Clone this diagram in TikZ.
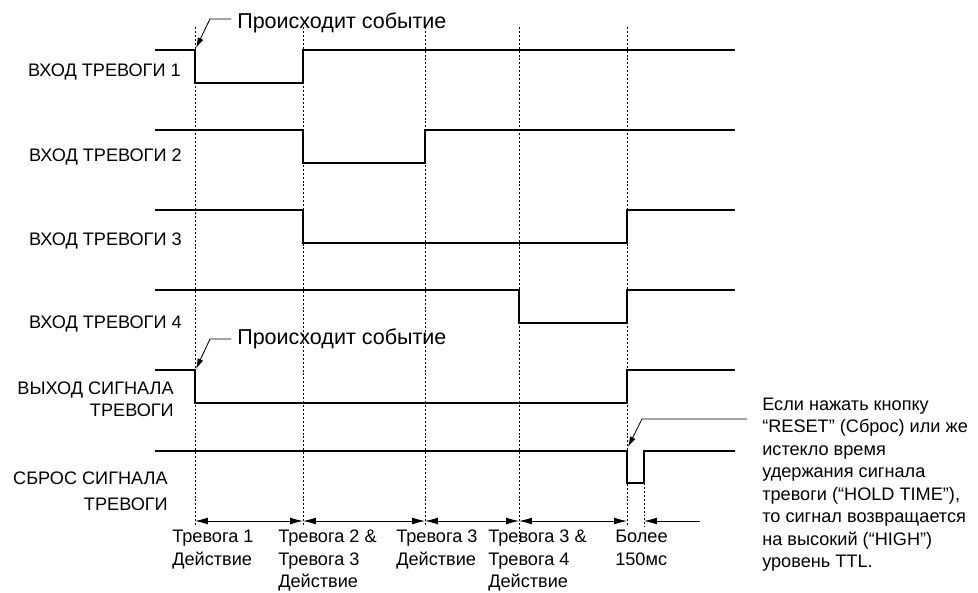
\documentclass[tikz,border=0pt]{standalone}
\usepackage{fontspec}
\setmainfont{Liberation Sans}
\usetikzlibrary{arrows.meta,positioning}

\tikzset{
	signal/.style={line width=2.1pt},
	guide/.style={line width=0.6pt, dash pattern=on 1.4pt off 1.4pt},
	span/.style={line width=0.6pt, {Latex[length=3.2mm,width=1.7mm]}-{Latex[length=3.2mm,width=1.7mm]}},
	spanend/.style={line width=0.6pt, -{Latex[length=3.2mm,width=1.7mm]}},
	leader/.style={line width=0.6pt, -{Latex[length=2.6mm,width=1.5mm]}},
	lbl/.style={font=\fontsize{12.9}{16}\selectfont, inner sep=0pt},
	evlbl/.style={font=\fontsize{15.3}{18}\selectfont, inner sep=0pt},
}

\begin{document}
\begin{tikzpicture}[x=0.025cm,y=-0.025cm]
	\useasboundingbox (0,0) rectangle (978,592);
	
	% dotted time marks
	\draw[guide] (195,27)--(195,527);
	\draw[guide] (303,27)--(303,527);
	\draw[guide] (425,27)--(425,527);
	\draw[guide] (519,27)--(519,543);
	\draw[guide] (627,27)--(627,525);
	\draw[guide] (644,483)--(644,527);
	
	% alarm inputs
	\draw[signal] (155,50)--(195,50)--(195,83)--(303,83)--(303,50)--(735,50);
	\draw[signal] (155,130)--(303,130)--(303,163)--(425,163)--(425,130)--(735,130);
	\draw[signal] (155,210)--(303,210)--(303,243)--(627,243)--(627,210)--(735,210);
	\draw[signal] (155,290)--(519,290)--(519,323)--(627,323)--(627,290)--(735,290);
	
	% alarm output and reset
	\draw[signal] (155,370)--(195,370)--(195,403)--(627,403)--(627,370)--(735,370);
	\draw[signal] (155,451)--(627,451)--(627,483)--(644,483)--(644,451)--(735,451);
	
	% signal names
	\node[lbl, anchor=east] (in1) at (181,72) {ВХОД ТРЕВОГИ 1};
	\node[lbl, anchor=east] (in2) at (182,157) {ВХОД ТРЕВОГИ 2};
	\node[lbl, anchor=east] (in3) at (182,241) {ВХОД ТРЕВОГИ 3};
	\node[lbl, anchor=east] (in4) at (182,324) {ВХОД ТРЕВОГИ 4};
	\node[lbl, anchor=north east, align=right] (out) at (174,381.5) {ВЫХОД СИГНАЛА\\ТРЕВОГИ};
	\node[lbl, anchor=north east, align=right] (rst) at (168,472) {СБРОС СИГНАЛА\\[2pt]ТРЕВОГИ};
	
	% event callouts
	\node[evlbl, anchor=base west] (ev1) at (237,28) {Происходит событие};
	\coordinate (ev1start) at (231,19);
	\coordinate (ev1bend) at (210,19);
	\coordinate (ev1tip) at (196,48);
	\draw[leader] (ev1start) -- (ev1bend) -- (ev1tip);
	
	\node[evlbl, anchor=base west] (ev2) at (237,344.5) {Происходит событие};
	\coordinate (ev2start) at (231,339);
	\coordinate (ev2bend) at (210,339);
	\coordinate (ev2tip) at (196,369);
	\draw[leader] (ev2start) -- (ev2bend) -- (ev2tip);
	
	% reset note
	\node[lbl, anchor=north west, align=left] (note) at (762,397.5) {Если нажать кнопку\\“RESET” (Сброс) или же\\истекло время\\удержания сигнала\\тревоги (“HOLD TIME”),\\то сигнал возвращается\\на высокий (“HIGH”)\\уровень TTL.};
	\coordinate (notestart) at (747,419);
	\coordinate (notebend) at (642,419);
	\coordinate (notetip) at (628,447);
	\draw[leader] (notestart) -- (notebend) -- (notetip);
	
	% intervals
	\draw[span] (195,521)--(303,521);
	\draw[span] (303,521)--(425,521);
	\draw[span] (425,521)--(519,521);
	\draw[span] (519,521)--(627,521);
	\draw[spanend] (700,521)--(644,521);
	
	\node[lbl, anchor=north west, align=left] (t1) at (172,530) {Тревога 1\\Действие};
	\node[lbl, anchor=north west, align=left] (t2) at (278,530) {Тревога 2 \&\\Тревога 3\\Действие};
	\node[lbl, anchor=north west, align=left] (t3) at (396,530) {Тревога 3\\Действие};
	\node[lbl, anchor=north west, align=left] (t4) at (488,530) {Тревога 3 \&\\Тревога 4\\Действие};
	\node[lbl, anchor=north west, align=left] (t5) at (615,530) {Более\\150мс};
\end{tikzpicture}
\end{document}
